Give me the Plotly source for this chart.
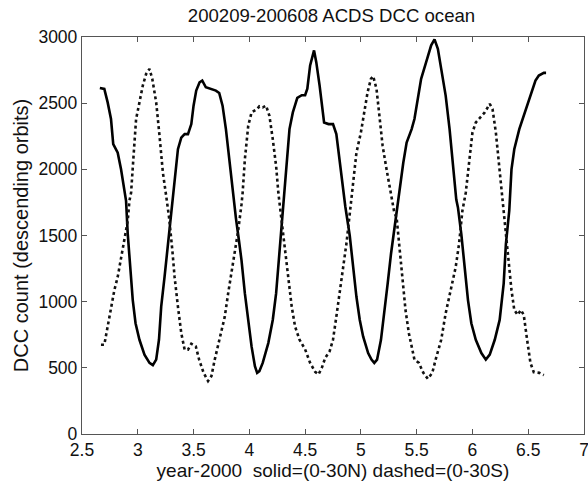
import plotly.graph_objects as go

# Solid curve (0-30N)
solid_x = [2.66, 2.70, 2.73, 2.76, 2.78, 2.82, 2.85, 2.88, 2.895, 2.91, 2.93, 2.955, 2.98, 3.015, 3.06, 3.105, 3.135,
           3.165, 3.19, 3.21, 3.24, 3.27, 3.30, 3.314, 3.34, 3.36, 3.39, 3.42, 3.45, 3.48, 3.50, 3.524, 3.554, 3.578,
           3.61, 3.66, 3.70, 3.73, 3.76, 3.79, 3.82, 3.85, 3.88, 3.907, 3.93, 3.96, 3.99, 4.02, 4.05, 4.07, 4.09,
           4.12, 4.17, 4.21, 4.24, 4.27, 4.30, 4.33, 4.36, 4.39, 4.43, 4.47, 4.50, 4.52, 4.545, 4.58, 4.60, 4.63,
           4.65, 4.67, 4.71, 4.75, 4.78, 4.80, 4.83, 4.86, 4.90, 4.93, 4.96, 4.99, 5.02, 5.065, 5.095, 5.12, 5.145,
           5.18, 5.21, 5.24, 5.27, 5.30, 5.33, 5.35, 5.38, 5.41, 5.455, 5.48, 5.51, 5.54, 5.585, 5.63, 5.66, 5.69,
           5.72, 5.76, 5.795, 5.825, 5.855, 5.87, 5.90, 5.93, 5.96, 5.99, 6.03, 6.08, 6.12, 6.155, 6.20, 6.244,
           6.28, 6.30, 6.33, 6.35, 6.375, 6.42, 6.465, 6.49, 6.52, 6.565, 6.595, 6.64, 6.66]
solid_y = [2615, 2608, 2506, 2380, 2190, 2126, 2000, 1823, 1762, 1512, 1262, 1012, 837, 712, 600, 537, 520,
           562, 712, 962, 1187, 1437, 1662, 1823, 2025, 2152, 2240, 2266, 2266, 2342, 2481, 2595, 2658, 2671,
           2620, 2608, 2595, 2577, 2481, 2304, 2076, 1823, 1630, 1462, 1312, 1062, 837, 662, 512, 462, 475,
           537, 687, 862, 1062, 1387, 1700, 2025, 2304, 2430, 2540, 2560, 2560, 2610, 2785, 2899, 2810, 2633,
           2481, 2354, 2342, 2342, 2266, 2126, 1924, 1721, 1500, 1262, 1037, 862, 737, 612, 562, 537, 562,
           712, 912, 1137, 1362, 1562, 1762, 1873, 2050, 2202, 2304, 2380, 2532, 2684, 2810, 2937, 2982, 2911,
           2759, 2557, 2304, 2050, 1772, 1712, 1512, 1262, 1012, 837, 712, 612, 562, 600, 712, 862,
           1137, 1437, 1687, 2000, 2152, 2304, 2418, 2481, 2570, 2671, 2709, 2729, 2729]

# Dashed curve (0-30S)
dash_x = [2.67, 2.70, 2.73, 2.76, 2.79, 2.82, 2.85, 2.88, 2.91, 2.925, 2.94, 2.96, 2.985, 3.015, 3.045, 3.075, 3.105,
          3.13, 3.165, 3.195, 3.225, 3.255, 3.28, 3.31, 3.33, 3.36, 3.39, 3.42, 3.45, 3.48, 3.52, 3.55, 3.59, 3.63,
          3.66, 3.69, 3.73, 3.78, 3.81, 3.84, 3.87, 3.90, 3.93, 3.94, 3.96, 3.99, 4.02, 4.07, 4.09, 4.12, 4.15,
          4.18, 4.21, 4.24, 4.26, 4.29, 4.32, 4.35, 4.38, 4.41, 4.45, 4.50, 4.545, 4.59, 4.62, 4.65, 4.68, 4.72,
          4.75, 4.78, 4.81, 4.84, 4.87, 4.90, 4.93, 4.96, 5.00, 5.03, 5.06, 5.09, 5.11, 5.14, 5.165, 5.195, 5.23,
          5.27, 5.30, 5.32, 5.35, 5.38, 5.40, 5.43, 5.48, 5.52, 5.56, 5.60, 5.64, 5.67, 5.72, 5.76, 5.81, 5.85,
          5.88, 5.91, 5.94, 5.97, 6.00, 6.03, 6.08, 6.11, 6.155, 6.18, 6.21, 6.24, 6.27, 6.29, 6.32, 6.35, 6.375,
          6.405, 6.435, 6.46, 6.49, 6.52, 6.55, 6.60, 6.64]
dash_y = [675, 675, 812, 962, 1087, 1187, 1325, 1462, 1612, 1762, 1823, 2076, 2380, 2506, 2633, 2721, 2759,
          2684, 2506, 2253, 1975, 1797, 1640, 1387, 1187, 962, 762, 637, 637, 682, 662, 562, 462, 400,
          437, 562, 712, 887, 1062, 1212, 1362, 1537, 1737, 1823, 2076, 2329, 2430, 2455, 2476, 2468, 2481,
          2405, 2228, 2025, 1823, 1615, 1387, 1162, 962, 812, 712, 640, 537, 470, 450, 500, 575, 625,
          712, 887, 1062, 1262, 1437, 1662, 1873, 2126, 2278, 2430, 2582, 2684, 2704, 2608, 2405, 2177, 2000,
          1823, 1671, 1637, 1362, 1137, 937, 762, 562, 537, 462, 417, 462, 562, 712, 912, 1112, 1262,
          1437, 1687, 1823, 2050, 2278, 2354, 2405, 2430, 2494, 2456, 2278, 2025, 1772, 1637, 1387, 1087, 937,
          900, 937, 900, 712, 537, 467, 462, 445]

x_ticks = [2.5, 3, 3.5, 4, 4.5, 5, 5.5, 6, 6.5, 7]
x_tick_labels = ["2.5", "3", "3.5", "4", "4.5", "5", "5.5", "6", "6.5", "7"]
y_ticks = [0, 500, 1000, 1500, 2000, 2500, 3000]
y_tick_labels = ["0", "500", "1000", "1500", "2000", "2500", "3000"]

title_text = "200209-200608 ACDS DCC ocean"
x_title = "year-2000\u00a0\u00a0solid=(0-30N) dashed=(0-30S)"
y_title = "DCC count (descending orbits)"

fig = go.Figure()
fig.add_trace(go.Scatter(x=solid_x, y=solid_y, mode="lines",
                         line=dict(color="#000000", width=2.6), showlegend=False))
fig.add_trace(go.Scatter(x=dash_x, y=dash_y, mode="lines",
                         line=dict(color="#111111", width=2.6, dash="dot"), showlegend=False))

font = "Liberation Sans, Arial, sans-serif"
axis_common = dict(showgrid=False, zeroline=False, showline=True, linecolor="#555555", linewidth=1.3,
                   mirror="ticks", ticks="inside", ticklen=5, tickcolor="#555555",
                   ticklabeloverflow="allow", automargin=False,
                   tickfont=dict(family=font, size=17.5, color="#111111"))

fig.update_layout(
    width=588, height=483,
    margin=dict(l=82, r=4, t=37, b=49),
    paper_bgcolor="white", plot_bgcolor="white",
    title=dict(text=title_text, xref="paper", x=0.497, xanchor="center",
               yref="container", y=0.967, yanchor="middle",
               font=dict(family=font, size=18.6, color="#111111")),
    xaxis=dict(range=[2.5, 7], tickvals=x_ticks, ticktext=x_tick_labels,
               title=dict(text=x_title, standoff=0, font=dict(family=font, size=19, color="#111111")),
               **axis_common),
    yaxis=dict(range=[0, 3000], tickvals=y_ticks, ticktext=y_tick_labels,
               title=dict(text=y_title, standoff=4, font=dict(family=font, size=20, color="#111111")),
               **axis_common),
)

fig.write_html("out.html", config={"displayModeBar": False},
               post_script="document.body.style.margin='0';")
